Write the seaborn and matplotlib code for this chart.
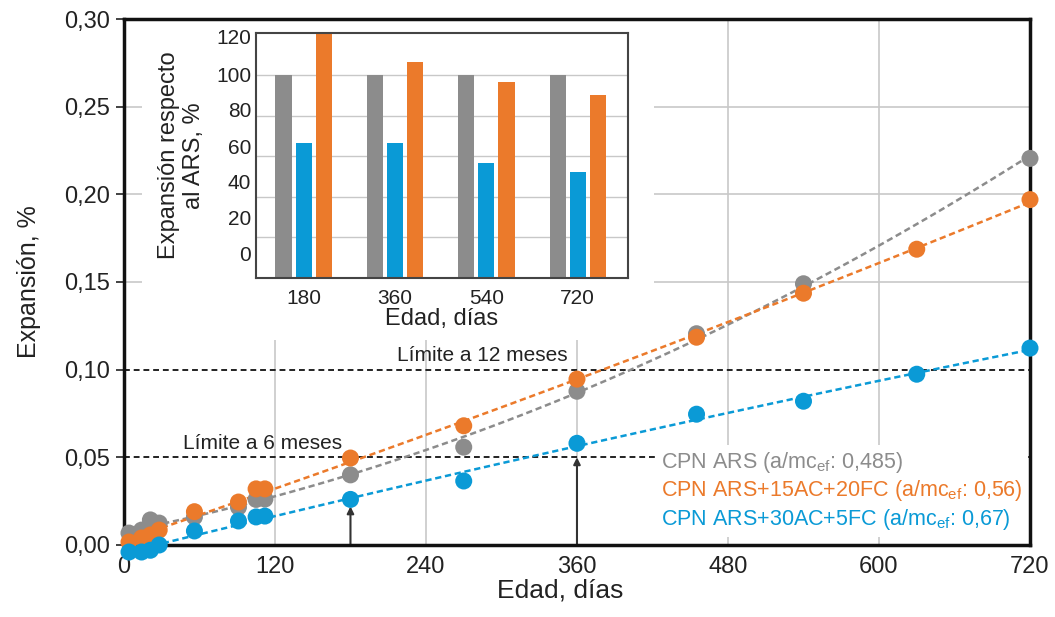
import numpy as np
import pandas as pd
import matplotlib.pyplot as plt
import seaborn as sns
from matplotlib.lines import Line2D
from matplotlib.patches import Rectangle
from matplotlib.ticker import FuncFormatter

# main chart: expansion (%) vs age (days)
days = [4, 14, 21, 28, 56, 91, 105, 112, 180, 270, 360, 455, 540, 630, 720]
exp_ars = [0.0068, 0.0085, 0.0143, 0.0125, 0.0160, 0.0216, 0.0260, 0.0262, 0.0400,
           0.0558, 0.0877, 0.1205, 0.1490, np.nan, 0.2205]
exp_15ac = [0.0017, 0.0040, 0.0057, 0.0085, 0.0190, 0.0245, 0.0320, 0.0320, 0.0496,
            0.0680, 0.0946, 0.1185, 0.1436, 0.1687, 0.1970]
exp_30ac = [-0.0040, -0.0040, -0.0030, 0.0000, 0.0080, 0.0137, 0.0160, 0.0165, 0.0260,
            0.0365, 0.0580, 0.0746, 0.0820, 0.0974, 0.1123]

series = ['CPN ARS', 'CPN ARS+15AC+20FC', 'CPN ARS+30AC+5FC']
legend_labels = [r'CPN ARS (a/mc$_{\mathregular{ef}}$: 0,485)',
                 r'CPN ARS+15AC+20FC (a/mc$_{\mathregular{ef}}$: 0,56)',
                 r'CPN ARS+30AC+5FC (a/mc$_{\mathregular{ef}}$: 0,67)']
colors = ['#8c8c8c', '#eb7a2b', '#0a9ad6']

limits = [0.05, 0.10]
limit_texts = ['Límite a 6 meses', 'Límite a 12 meses']
arrow_days = [180, 360]
arrow_tops = [0.022, 0.050]
grid_y = [0.15, 0.20, 0.25]

# inset: expansion relative to ARS (%)
inset_ages = ['180', '360', '540', '720']
rel_ars = [100, 100, 100, 100]
rel_30ac = [66.5, 66.5, 56.5, 52.0]
rel_15ac = [126.0, 106.5, 96.5, 90.0]
inset_grid = [20, 40, 60, 80, 100]
inset_labels = ['0', '20', '40', '60', '80', '100', '120']
inset_label_pos = [12.2, 29.9, 47.4, 64.7, 82.8, 100.5, 119.2]

df = pd.DataFrame({'dia': days * 3,
                   'exp': exp_ars + exp_15ac + exp_30ac,
                   'serie': [s for s in series for _ in days]}).dropna()
rel = pd.DataFrame({'edad': inset_ages * 3,
                    'rel': rel_ars + rel_30ac + rel_15ac,
                    'serie': [series[0]] * 4 + [series[2]] * 4 + [series[1]] * 4})
pal = dict(zip(series, colors))

sns.set_theme(style='white')
plt.rcParams['font.family'] = ['Liberation Sans', 'DejaVu Sans']
plt.rcParams['mathtext.fontset'] = 'custom'
plt.rcParams['mathtext.rm'] = 'Liberation Sans'

fig = plt.figure(figsize=(10.55, 6.17), dpi=100)
ax = fig.add_axes([0.1175, 0.1167, 0.8588, 0.8525])
ax.set_xlim(0, 720)
ax.set_ylim(0, 0.30)

ax.set_axisbelow(True)
ax.grid(axis='x', color='#c8c8c8', lw=1.2)
for g in grid_y:
    ax.axhline(g, color='#c8c8c8', lw=1.2, zorder=0.6)
ax.add_patch(Rectangle((0.02, 0.39), 0.565, 0.61, transform=ax.transAxes,
                       facecolor='white', edgecolor='none', zorder=1))

for y in limits:
    ax.axhline(y, color='#222222', ls=(0, (3, 2)), lw=1.4, zorder=1.5)

for s, c in zip(series, colors):
    sns.regplot(data=df[df.serie == s], x='dia', y='exp', order=2, ci=None,
                scatter=False, truncate=False, color=c, ax=ax,
                line_kws=dict(ls=(0, (2.5, 1.5)), lw=1.8, zorder=2))

sns.scatterplot(data=df, x='dia', y='exp', hue='serie', palette=pal, s=150,
                edgecolor='none', legend=False, zorder=3, clip_on=False, ax=ax)

for d, top in zip(arrow_days, arrow_tops):
    ax.annotate('', xy=(d, top), xytext=(d, 0),
                arrowprops=dict(arrowstyle='-|>', color='#333333', lw=1.5,
                                mutation_scale=10, shrinkA=0, shrinkB=0),
                zorder=2.5)

ax.text(110, 0.058, limit_texts[0], ha='center', va='center', fontsize=15, color='#222222')
ax.text(285, 0.108, limit_texts[1], ha='center', va='center', fontsize=15, color='#222222')

handles = [Line2D([], [], color='none') for _ in series]
leg = ax.legend(handles, legend_labels, loc='upper left', bbox_to_anchor=(0.576, 0.21),
                handlelength=0, handletextpad=0, labelcolor=colors, frameon=True,
                facecolor='white', edgecolor='none', framealpha=1, fontsize=15.5,
                borderpad=0.2, labelspacing=0.18)
leg.set_zorder(2.4)

ax.set_xticks(range(0, 721, 120))
ax.set_yticks(np.arange(0, 0.301, 0.05))
ax.yaxis.set_major_formatter(FuncFormatter(lambda v, p: f'{v:.2f}'.replace('.', ',')))
ax.tick_params(axis='y', left=True, direction='out', length=6, width=1.2, labelsize=17,
               colors='#222222', pad=4)
ax.tick_params(axis='x', length=0, labelsize=17, colors='#222222', pad=8)
ax.set_xlabel('Edad, días', fontsize=19, color='#222222')
ax.set_ylabel('Expansión, %', fontsize=18, color='#222222')
ax.xaxis.set_label_coords(0.481, -0.063)
ax.yaxis.set_label_coords(-0.092, 0.5)
for sp in ax.spines.values():
    sp.set_linewidth(2.5)
    sp.set_color('#111111')
    sp.set_zorder(2.5)

# inset bar chart
axin = fig.add_axes([0.2427, 0.5494, 0.3526, 0.3971])
axin.set_facecolor('white')
sns.barplot(data=rel, x='edad', y='rel', hue='serie', hue_order=[series[0], series[2], series[1]],
            palette=pal, width=0.66, gap=0.2, saturation=1, linewidth=0, legend=False, ax=axin)
axin.set_xlim(-0.52, 3.55)
axin.set_ylim(0, 120.7)
axin.set_yticks(inset_grid, minor=True)
axin.grid(True, which='minor', axis='y', color='#c8c8c8', lw=1)
axin.set_axisbelow(True)
axin.set_yticks(inset_label_pos, labels=inset_labels)
axin.tick_params(which='both', length=0, labelsize=15, colors='#222222')
axin.tick_params(axis='x', pad=8)
axin.set_xlabel('Edad, días', fontsize=17, color='#222222', labelpad=0)
axin.set_ylabel('Expansión respecto\nal ARS, %', fontsize=17, color='#222222', labelpad=8)
for sp in axin.spines.values():
    sp.set_linewidth(1.5)
    sp.set_color('#444444')

fig.savefig('out.png', dpi=100)
